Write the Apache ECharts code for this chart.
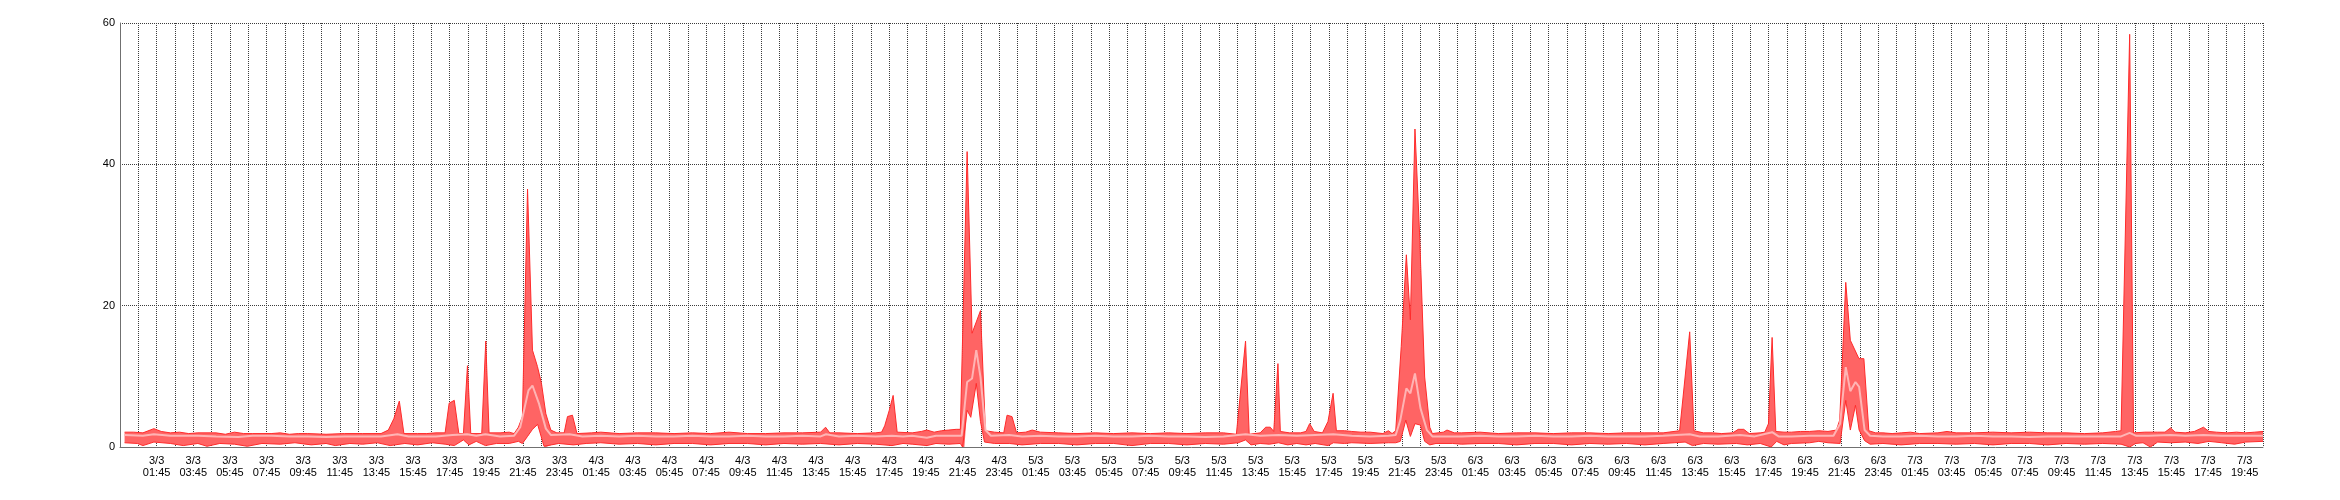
<!DOCTYPE html>
<html>
<head>
<meta charset="utf-8">
<script src="https://cdn.jsdelivr.net/npm/echarts/dist/echarts.min.js"></script>
<style>
html,body{margin:0;padding:0;background:#fff;}
#chart{width:2340px;height:500px;}
</style>
</head>
<body>
<div id="chart"></div>
<script>
// Time values: hours since 3/3 00:00. Axis starts at 2/3 23:45.
const AXIS_START_OFFSET = 0.25; // hours from axis start (2/3 23:45) to 3/3 00:00
const AXIS_HOURS = 117;
const yTicks = [0, 20, 40, 60];

const maxPoints = [
[0,2.1],[0.5,2.1],[1.0,2.0],[1.6,2.6],[2.0,2.2],[2.5,2.0],[3.0,2.1],[3.5,1.9],[4.0,2.0],[5.0,2.0],[5.5,1.8],[6.0,2.1],[6.5,1.9],[7.0,1.9],[8.0,1.9],[8.5,2.0],[9.0,1.8],[9.5,1.9],[10.0,1.9],[11.0,1.8],[12.0,1.9],[13.0,1.9],[14.0,1.9],[14.4,2.4],[14.7,4.0],[15.0,6.5],[15.25,1.9],[16.0,1.9],[16.5,1.9],[17.0,2.0],[17.5,2.0],[17.72,6.2],[18.0,6.6],[18.25,1.9],[18.5,1.9],[18.72,11.5],[18.9,1.9],[19.5,1.9],[19.72,15.0],[19.9,2.0],[20.5,2.0],[21.0,2.1],[21.27,1.9],[21.5,2.8],[21.72,4.3],[22.0,36.5],[22.27,13.7],[22.54,11.4],[22.76,9.0],[23.0,4.7],[23.27,2.4],[23.6,2.0],[24.0,2.0],[24.18,4.3],[24.45,4.5],[24.7,1.9],[25.5,2.0],[26,2.1],[27,1.9],[28,2.0],[29,2.0],[30,1.9],[31,2.0],[32,1.9],[33,2.1],[34,1.9],[35,1.9],[36,2.0],[37,2.0],[38.0,2.1],[38.27,2.8],[38.5,2.0],[39,2.0],[40,1.9],[41.0,2.0],[41.33,2.1],[41.5,3.0],[41.75,5.2],[41.96,7.3],[42.18,2.1],[43,2.0],[43.5,2.2],[43.8,2.4],[44.2,2.1],[44.6,2.3],[45.0,2.4],[45.4,2.5],[45.63,2.5],[46.0,41.8],[46.27,16.1],[46.5,17.7],[46.73,19.3],[47.0,2.3],[47.5,2.1],[48.0,2.0],[48.18,4.5],[48.45,4.3],[48.7,2.0],[49.2,2.1],[49.55,2.4],[50,2.1],[51,2.0],[52,1.9],[53,2.0],[54,1.9],[55,2.0],[56,1.9],[57,2.0],[58,1.9],[59,2.0],[60.0,2.0],[60.7,1.8],[61.2,15.0],[61.4,1.8],[62.0,2.0],[62.3,2.8],[62.55,2.8],[62.74,2.2],[62.97,11.8],[63.1,2.2],[63.6,2.0],[64.2,2.0],[64.5,2.2],[64.7,3.3],[64.95,2.2],[65.4,2.0],[65.7,3.6],[65.98,7.6],[66.16,2.3],[66.6,2.3],[67.0,2.2],[67.5,2.1],[68,2.1],[68.7,1.9],[69.0,2.3],[69.2,1.9],[69.4,2.3],[69.7,14.2],[69.98,27.2],[70.2,18.0],[70.45,45.0],[70.7,30.3],[70.98,9.9],[71.26,2.8],[71.4,1.9],[72.0,2.1],[72.2,2.4],[72.6,2.0],[73,2.0],[74,2.1],[75,1.9],[76,2.0],[77,2.0],[78,1.9],[79,2.0],[80,2.0],[81,1.9],[82,2.0],[83,2.0],[84,2.0],[84.9,2.3],[85.45,16.3],[85.68,2.3],[86.2,2.0],[86.7,2.0],[87.2,1.9],[87.8,2.0],[88.1,2.5],[88.4,2.5],[88.7,1.9],[89.3,2.0],[89.55,2.1],[89.75,3.3],[89.95,15.5],[90.15,2.2],[90.6,2.1],[91,2.1],[91.5,2.2],[92,2.2],[92.5,2.3],[93.0,2.2],[93.46,2.4],[93.64,3.8],[93.97,23.3],[94.22,15.1],[94.42,14.0],[94.69,12.5],[94.96,12.5],[95.23,2.3],[95.6,2.0],[96,2.0],[96.5,1.9],[97,2.0],[97.5,2.1],[98,1.9],[99,2.0],[99.5,2.2],[100,2.0],[101,2.0],[102,2.1],[103,2.0],[104,2.1],[105,2.0],[106,2.0],[107,1.9],[108,2.0],[108.7,2.2],[109.0,2.3],[109.47,58.4],[109.68,2.0],[110.3,2.1],[111.0,2.1],[111.4,2.1],[111.7,2.7],[111.95,2.1],[112.5,2.0],[113.0,2.2],[113.5,2.8],[113.8,2.2],[114.2,2.1],[114.8,2.0],[115.3,2.1],[115.8,2.0],[116.3,2.1],[116.75,2.2]
];

const avgPoints = [
[0,1.7],[1.0,1.6],[1.6,1.8],[2.5,1.6],[4,1.6],[5,1.5],[6.2,1.4],[7,1.6],[8,1.6],[9,1.5],[10,1.5],[11,1.4],[12,1.5],[13,1.5],[14,1.5],[14.9,1.8],[15.5,1.5],[17,1.5],[17.9,1.7],[18.7,1.8],[19.2,1.6],[19.7,1.8],[20.5,1.5],[21.27,1.6],[21.6,2.8],[22.05,8.0],[22.27,8.7],[22.63,6.1],[23.0,2.6],[23.27,1.7],[24.3,1.8],[25,1.5],[26,1.6],[27,1.5],[28,1.6],[29,1.5],[30,1.5],[31,1.6],[32,1.5],[33,1.5],[34,1.6],[35,1.5],[36,1.5],[37,1.6],[38,1.5],[38.3,1.8],[39,1.5],[40,1.6],[41,1.5],[41.9,1.6],[42.5,1.5],[43,1.6],[43.8,1.3],[44.3,1.6],[45,1.6],[45.7,1.6],[46.0,9.2],[46.27,9.7],[46.5,13.7],[46.73,9.9],[47.0,2.4],[47.3,1.6],[48.3,1.7],[49,1.5],[50,1.6],[51,1.5],[52,1.5],[53,1.6],[54,1.5],[55,1.5],[56,1.6],[57,1.5],[58,1.5],[59,1.4],[60,1.5],[61.2,1.8],[62,1.6],[63,1.7],[64,1.6],[65,1.7],[66,1.8],[67,1.6],[68,1.5],[69,1.6],[69.4,1.7],[69.65,3.8],[69.98,8.3],[70.2,7.6],[70.45,10.4],[70.75,5.5],[71.1,2.4],[71.4,1.5],[72,1.5],[73,1.5],[74,1.6],[75,1.5],[76,1.5],[77,1.6],[78,1.5],[79,1.5],[80,1.6],[81,1.5],[82,1.5],[83,1.5],[84,1.6],[85.45,1.8],[86,1.5],[87,1.5],[88.2,1.7],[89,1.5],[89.95,2.1],[90.3,1.5],[91,1.5],[92,1.6],[93.3,1.6],[93.66,3.3],[93.97,11.3],[94.22,7.9],[94.5,9.2],[94.7,8.5],[95.0,2.4],[95.3,1.6],[96,1.5],[97,1.5],[98,1.6],[99,1.5],[100,1.5],[101,1.6],[102,1.5],[103,1.5],[104,1.4],[105,1.5],[106,1.5],[107,1.5],[108,1.5],[109.0,1.5],[109.47,2.0],[109.8,1.6],[110.5,1.6],[111.7,1.7],[112.5,1.6],[113.5,1.7],[114.5,1.6],[115.5,1.6],[116.75,1.6]
];

const minPoints = [
[0,0.6],[0.7,0.5],[1.0,0.2],[1.6,0.7],[2.5,0.5],[3.2,0.2],[4.0,0.5],[4.5,0.1],[5.2,0.5],[6.0,0.4],[6.7,0.1],[7.5,0.5],[8.5,0.4],[9.3,0.6],[10.2,0.3],[11.0,0.5],[11.5,0.2],[12.3,0.5],[13.0,0.4],[13.8,0.6],[14.5,0.2],[15.3,0.5],[16.0,0.3],[16.8,0.6],[17.5,0.4],[18.0,0.2],[18.5,1.0],[18.8,0.3],[19.2,0.8],[19.7,0.2],[20.3,0.5],[21.0,0.5],[21.5,0.8],[21.72,0.5],[22.0,1.5],[22.27,2.5],[22.55,3.2],[22.9,0.1],[23.0,0.0],[23.3,0.3],[23.7,0.5],[24.5,0.3],[25.2,0.5],[26,0.6],[27,0.4],[28,0.5],[29,0.3],[30,0.5],[31,0.5],[32,0.3],[33,0.5],[34,0.5],[35,0.3],[36,0.5],[37,0.4],[38,0.5],[39,0.3],[40,0.5],[41,0.4],[41.9,0.2],[42.5,0.5],[43,0.4],[43.8,0.2],[44.3,0.5],[45,0.4],[45.63,0.5],[45.75,0.0],[45.85,0.0],[46.0,5.2],[46.2,4.2],[46.5,9.0],[46.73,3.6],[46.95,0.7],[47.5,0.5],[48.3,0.5],[49,0.3],[50,0.5],[51,0.5],[52,0.3],[53,0.5],[54,0.5],[55,0.2],[56,0.5],[57,0.5],[58,0.3],[59,0.5],[60,0.4],[60.8,0.6],[61.2,1.0],[61.5,0.3],[62,0.5],[62.5,0.4],[63,0.6],[63.5,0.3],[64,0.5],[64.5,0.3],[65,0.5],[65.7,0.2],[66,0.6],[66.6,0.5],[67,0.6],[68,0.5],[69,0.6],[69.4,0.6],[69.65,0.8],[69.95,3.8],[70.2,1.5],[70.45,3.3],[70.75,3.1],[70.98,0.8],[71.26,0.3],[71.6,0.5],[72.5,0.5],[73,0.4],[74,0.5],[75,0.5],[76,0.3],[77,0.5],[78,0.5],[79,0.3],[80,0.5],[81,0.4],[82,0.5],[83,0.3],[84,0.5],[84.6,0.6],[85.2,0.7],[85.6,0.2],[86.2,0.5],[87,0.4],[88,0.5],[88.6,0.3],[89.3,0.5],[89.9,0.0],[90.2,0.8],[90.6,0.3],[91,0.5],[92,0.6],[92.5,0.8],[93.0,0.6],[93.66,0.5],[93.97,6.6],[94.22,2.4],[94.5,5.9],[94.7,2.4],[95.0,0.9],[95.3,0.4],[96,0.5],[97,0.3],[98,0.5],[99,0.5],[100,0.4],[101,0.5],[102,0.3],[103,0.5],[104,0.5],[105,0.3],[106,0.5],[107,0.4],[108,0.5],[109.0,0.4],[109.47,0.0],[109.8,0.5],[110.2,0.6],[110.6,0.0],[111.0,0.7],[111.7,0.6],[112.5,0.7],[113.2,0.5],[113.8,0.8],[114.5,0.6],[115.2,0.4],[115.8,0.7],[116.75,0.8]
];

function toAxis(points) {
  return points.map(p => [p[0] + AXIS_START_OFFSET, p[1]]);
}

function tickLabel(v) {
  const h = Math.round(v);
  if (h % 2 !== 0 || h < 2 || h > AXIS_HOURS - 1) return '';
  const mins = h * 60 - 15; // minutes since 3/3 00:00
  const day = 3 + Math.floor(mins / 1440);
  const m = mins % 1440;
  const hh = String(Math.floor(m / 60)).padStart(2, '0');
  const mm = String(m % 60).padStart(2, '0');
  return day + '/3\n' + hh + ':' + mm;
}

const maxData = toAxis(maxPoints);
const avgData = toAxis(avgPoints);
const minData = toAxis(minPoints);

const chart = echarts.init(document.getElementById('chart'), null, {renderer: 'canvas'});
const gridLine = {show: true, lineStyle: {color: '#3c3c3c', type: 'dotted', width: 1}};

chart.setOption({
  animation: false,
  backgroundColor: '#fff',
  grid: {left: 120, right: 77, top: 23, bottom: 53, containLabel: false},
  xAxis: {
    type: 'value', min: 0, max: AXIS_HOURS, interval: 1,
    splitLine: gridLine,
    axisLine: {show: true, onZero: false, lineStyle: {color: '#707070', width: 1}},
    axisTick: {show: false},
    axisLabel: {
      formatter: tickLabel, color: '#000', fontFamily: 'Liberation Sans', fontSize: 11,
      lineHeight: 12, margin: 8, showMinLabel: true, showMaxLabel: true
    }
  },
  yAxis: {
    type: 'value', min: yTicks[0], max: yTicks[yTicks.length - 1], interval: 20,
    splitLine: gridLine,
    axisLine: {show: true, lineStyle: {color: '#707070', width: 1}},
    axisTick: {show: false},
    axisLabel: {color: '#000', fontFamily: 'Liberation Sans', fontSize: 11, margin: 5}
  },
  series: [
    {
      type: 'custom',
      z: 1,
      silent: true,
      data: [[AXIS_START_OFFSET, 0]],
      encode: {x: 0, y: 1},
      renderItem: function (params, api) {
        if (params.dataIndex !== 0) return null;
        const pts = maxData.map(p => api.coord(p))
          .concat(minData.slice().reverse().map(p => api.coord(p)));
        return {type: 'polygon', shape: {points: pts}, style: {fill: '#ff6464', stroke: null}};
      }
    },
    {
      type: 'line', z: 2, data: maxData, showSymbol: false, silent: true,
      lineStyle: {color: '#ff2b2b', width: 1}
    },
    {
      type: 'line', z: 2, data: minData, showSymbol: false, silent: true,
      lineStyle: {color: '#ff2b2b', width: 1}
    },
    {
      type: 'line', z: 3, data: avgData, showSymbol: false, silent: true,
      lineStyle: {color: '#ffb4b4', width: 2}
    }
  ]
});
</script>
</body>
</html>
